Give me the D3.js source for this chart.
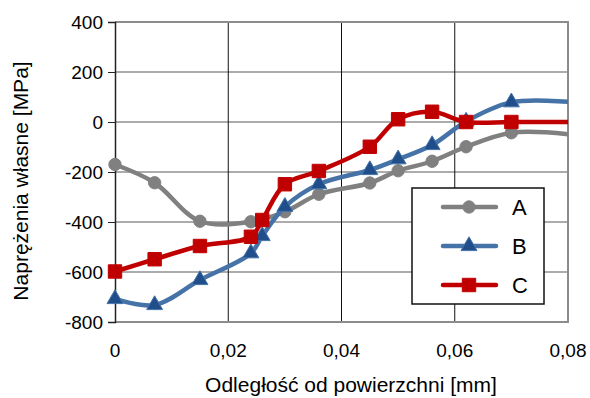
<!DOCTYPE html>
<html>
<head>
<meta charset="utf-8">
<script src="https://cdn.jsdelivr.net/npm/d3@7"></script>
<style>
  body { margin: 0; background: #fff; }
  text { font-family: "Liberation Sans", Arial, sans-serif; }
</style>
</head>
<body>
<script>
// data
var xs = [0, 0.007, 0.015, 0.024, 0.026, 0.030, 0.036, 0.045, 0.050, 0.056, 0.062, 0.070, 0.080];
var seriesA = [-170, -243, -397, -399, null, -359, -289, -244, -195, -157, -99, -43, -49];
var seriesB = [-708, -732, -632, -525, -456, -339, -249, -192, -149, -92, 2, 79, 81];
var seriesC = [-598, -549, -496, -459, -392, -249, -196, -99, 11, 41, 0, 0, 0];
var seriesNames = ["A", "B", "C"];
var xTicks = [0, 0.02, 0.04, 0.06, 0.08];
var yTicks = [400, 200, 0, -200, -400, -600, -800];

var W = 590, H = 398;
var margin = { top: 22, right: 22, bottom: 76, left: 115 };

var x = d3.scaleLinear().domain([0, 0.08]).range([margin.left, W - margin.right]);
var y = d3.scaleLinear().domain([-800, 400]).range([H - margin.bottom, margin.top]);

var svg = d3.select("body").append("svg")
    .attr("width", W)
    .attr("height", H);

// grid
svg.append("g").selectAll("line")
    .data(yTicks.filter(function(d) { return d != -800 && d != 400; }))
    .enter().append("line")
    .attr("x1", x(0)).attr("x2", x(0.08))
    .attr("y1", function(d) { return y(d); })
    .attr("y2", function(d) { return y(d); })
    .attr("stroke", "#5a5a5a")
    .attr("stroke-width", 1.2);

svg.append("g").selectAll("line")
    .data([0.02, 0.04, 0.06])
    .enter().append("line")
    .attr("y1", y(400)).attr("y2", y(-800))
    .attr("x1", function(d) { return x(d); })
    .attr("x2", function(d) { return x(d); })
    .attr("stroke", "#111")
    .attr("stroke-width", 1);

// plot border (top, right, bottom)
svg.append("path")
    .attr("d", "M" + x(0) + "," + y(400) + "H" + x(0.08) + "V" + y(-800) + "H" + x(0))
    .attr("fill", "none")
    .attr("stroke", "#8c8c8c")
    .attr("stroke-width", 2);

// y axis
var yAxis = svg.append("g")
    .attr("transform", "translate(" + x(0) + ",0)")
    .call(d3.axisLeft(y).tickValues(yTicks).tickSize(7).tickPadding(5).tickFormat(d3.format("d")));
yAxis.select(".domain").attr("stroke", "#222").attr("stroke-width", 1.5);
yAxis.selectAll(".tick line").attr("stroke", "#222");
yAxis.selectAll("text")
    .attr("font-size", "19px")
    .attr("fill", "#000")
    .attr("font-family", "Liberation Sans, Arial, sans-serif")
    .text(function(d) { return d < 0 ? "-" + Math.abs(d) : d; });

// x axis labels
svg.append("g").selectAll("text")
    .data(xTicks)
    .enter().append("text")
    .attr("x", function(d) { return x(d); })
    .attr("y", y(-800) + 35)
    .attr("text-anchor", "middle")
    .attr("font-size", "19px")
    .text(function(d) { return d == 0 ? "0" : d.toFixed(2).replace(".", ","); });

// axis titles
svg.append("text")
    .attr("x", 351)
    .attr("y", 392)
    .attr("text-anchor", "middle")
    .attr("font-size", "21px")
    .text("Odległość od powierzchni [mm]");

svg.append("text")
    .attr("transform", "translate(28,181) rotate(-90)")
    .attr("text-anchor", "middle")
    .attr("font-size", "21px")
    .text("Naprężenia własne [MPa]");

// series
var series = [
    { name: "A", values: seriesA, color: "#808080", mark: "#808080", symbol: d3.symbolCircle, size: 120 },
    { name: "B", values: seriesB, color: "#4572a7", mark: "#1f4e8a", symbol: d3.symbolTriangle, size: 110 },
    { name: "C", values: seriesC, color: "#c00000", mark: "#c00000", symbol: d3.symbolSquare, size: 180 }
];

var line = d3.line()
    .defined(function(d) { return d.v != null; })
    .x(function(d) { return x(d.x); })
    .y(function(d) { return y(d.v); })
    .curve(d3.curveCatmullRom.alpha(0.5));

series.forEach(function(s) {
    var pts = xs.map(function(xv, i) { return { x: xv, v: s.values[i] }; })
        .filter(function(d) { return d.v != null; });

    svg.append("path")
        .datum(pts)
        .attr("d", line)
        .attr("fill", "none")
        .attr("stroke", s.color)
        .attr("stroke-width", 4.5)
        .attr("stroke-linejoin", "round");

    svg.append("g").selectAll("path")
        .data(pts.filter(function(d) { return d.x < 0.08; }))
        .enter().append("path")
        .attr("transform", function(d) { return "translate(" + x(d.x) + "," + y(d.v) + ")"; })
        .attr("d", d3.symbol().type(s.symbol).size(s.size))
        .attr("fill", s.mark)
        .attr("stroke", s.color)
        .attr("stroke-width", 1);
});

// legend
var lg = svg.append("g");
lg.append("rect")
    .attr("x", 412).attr("y", 188)
    .attr("width", 132).attr("height", 116)
    .attr("fill", "#fff")
    .attr("stroke", "#111")
    .attr("stroke-width", 1.5);

series.forEach(function(s, i) {
    var ly = 207 + i * 39;
    lg.append("line")
        .attr("x1", 443).attr("x2", 496)
        .attr("y1", ly).attr("y2", ly)
        .attr("stroke", s.color)
        .attr("stroke-width", 4.5)
        .attr("stroke-linecap", "round");
    lg.append("path")
        .attr("transform", "translate(469," + ly + ")")
        .attr("d", d3.symbol().type(s.symbol).size(s.size))
        .attr("fill", s.mark)
        .attr("stroke", s.color);
    lg.append("text")
        .attr("x", 512)
        .attr("y", ly + 8)
        .attr("font-size", "22px")
        .text(s.name);
});
</script>
</body>
</html>
